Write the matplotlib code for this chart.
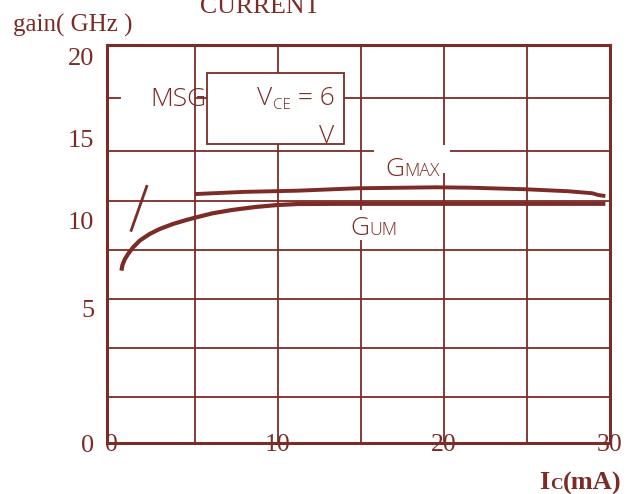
import matplotlib
matplotlib.use('Agg')
import matplotlib.pyplot as plt
import matplotlib.transforms as mtransforms
from matplotlib.patches import Rectangle

plt.rcParams['font.family'] = ['Liberation Serif', 'DejaVu Serif']

C = '#7B2C27'
SANS = ['Open Sans', 'DejaVu Sans']

# ---- data ----
gum_x = [0.58, 0.64, 0.78, 0.98, 1.28, 1.68, 2.27, 2.87, 3.66, 4.46, 5.00,
         6.05, 7.24, 8.64, 9.98, 11.22, 14.0, 18.0, 22.0, 26.0, 29.72]
gum_y = [8.66, 8.94, 9.23, 9.50, 9.83, 10.17, 10.50, 10.75, 11.00, 11.20, 11.32,
         11.54, 11.71, 11.86, 11.96, 12.01, 12.02, 12.02, 12.02, 12.02, 12.02]

gmax_x = [5.01, 8.0, 11.22, 14.79, 19.56, 21.55, 24.93, 27.51, 28.93, 29.30, 29.72]
gmax_y = [12.51, 12.62, 12.68, 12.80, 12.85, 12.83, 12.75, 12.65, 12.55, 12.46, 12.41]

msg_x = [1.14, 2.13]
msg_y = [10.62, 12.96]

xtick_vals = [0, 10, 20, 30]
xtick_labels = ['0', '10', '20', '30']
ytick_pos = [0, 6.78, 11.2, 15.28, 19.4]
ytick_labels = ['0', '5', '10', '15', '20']
xgrid = [5, 10, 15, 20, 25]
ygrid = [2.30, 4.76, 7.24, 9.70, 12.16, 14.67]
ygrid_msg = 17.35

# ---- figure ----
fig = plt.figure(figsize=(6.4, 4.94), dpi=100)
ax = fig.add_axes([107 / 640, 51 / 494, 503 / 640, 398 / 494])
ax.set_xlim(-0.29, 29.72)
ax.set_ylim(0, 20)
renderer = fig.canvas.get_renderer()

for v in xgrid:
    ax.axvline(v, color=C, lw=1.3, zorder=1)
for v in ygrid:
    ax.axhline(v, color=C, lw=1.3, zorder=1)
x0, x1 = ax.get_xlim()
ax.axhline(ygrid_msg, xmin=0, xmax=(0.48 - x0) / (x1 - x0), color=C, lw=1.3, zorder=1)
ax.axhline(ygrid_msg, xmin=(5.0 - x0) / (x1 - x0), xmax=1, color=C, lw=1.3, zorder=1)

# condition box
ax.add_patch(Rectangle((5.75, 15.01), 14.01 - 5.75, 18.58 - 15.01,
                       facecolor='white', edgecolor=C, lw=1.3, zorder=3))
# white backgrounds behind the curve labels
ax.add_patch(Rectangle((15.76, 13.57), 20.35 - 15.76, 14.97 - 13.57,
                       facecolor='white', edgecolor='none', zorder=2))
ax.add_patch(Rectangle((14.2, 10.2), 17.5 - 14.2, 11.71 - 10.2,
                       facecolor='white', edgecolor='none', zorder=2))

# curves
ax.plot(gum_x, gum_y, color=C, lw=3.0, solid_capstyle='butt', zorder=4)
ax.plot(gmax_x, gmax_y, color=C, lw=2.8, solid_capstyle='butt', zorder=4)
ax.plot(msg_x, msg_y, color=C, lw=2.0, solid_capstyle='butt', zorder=4)

for s in ax.spines.values():
    s.set_color(C)
    s.set_linewidth(2.2)

ax.set_xticks(xtick_vals, xtick_labels)
ax.set_yticks(ytick_pos, ytick_labels)
ax.tick_params(axis='x', length=0, pad=-6.6, labelsize=18.5, labelcolor=C)
ax.tick_params(axis='y', length=0, pad=9, labelsize=19, labelcolor=C)


def chain(target, x, y, parts, transform, ha='left', zorder=5):
    widths = []
    for s, kw, dy in parts:
        t = fig.text(0, 0, s, **kw)
        widths.append(t.get_window_extent(renderer).width)
        t.remove()
    off = -sum(widths) if ha == 'right' else 0.0
    for (s, kw, dy), w in zip(parts, widths):
        tr = transform + mtransforms.ScaledTranslation(off / fig.dpi, dy / 72.0,
                                                       fig.dpi_scale_trans)
        target.text(x, y, s, transform=tr, ha='left', va='baseline',
                    zorder=zorder, **kw)
        off += w


def sans(size, **extra):
    d = dict(fontsize=size, family=SANS, weight='light', color=C)
    d.update(extra)
    return d


ax.text(5.73, 16.93, 'MSG', ha='right', va='baseline', zorder=2, **sans(19))
chain(ax, 13.40, 16.98, [('V', sans(19), 0), ('CE', sans(11), -3.1), (' = 6', sans(19), 0)],
      ax.transData, ha='right')
ax.text(13.37, 15.06, 'V', ha='right', va='baseline', zorder=5, **sans(19))

chain(ax, 16.47, 13.42, [('G', sans(19), 0), ('MAX', sans(12.8), 0)], ax.transData)
chain(ax, 14.37, 10.45, [('G', sans(19), 0), ('UM', sans(12.8), 0)], ax.transData)

serif = dict(family=['Liberation Serif', 'DejaVu Serif'], color=C)
fig.text(13.3 / 640, 1 - 31.7 / 494, 'gain( GHz )', fontsize=18, va='baseline', **serif)
fig.text(200 / 640, 1 - 12.7 / 494, 'CURRENT', fontsize=18.5, va='baseline', **serif)

bold = lambda sz: dict(fontsize=sz, weight='bold', **serif)
chain(fig, 621 / 640, 1 - 489.3 / 494, [('I', bold(19), 0), ('C', bold(12.6), 0), ('(mA)', bold(19), 0)],
      fig.transFigure, ha='right')

fig.savefig('out.png', dpi=100)
